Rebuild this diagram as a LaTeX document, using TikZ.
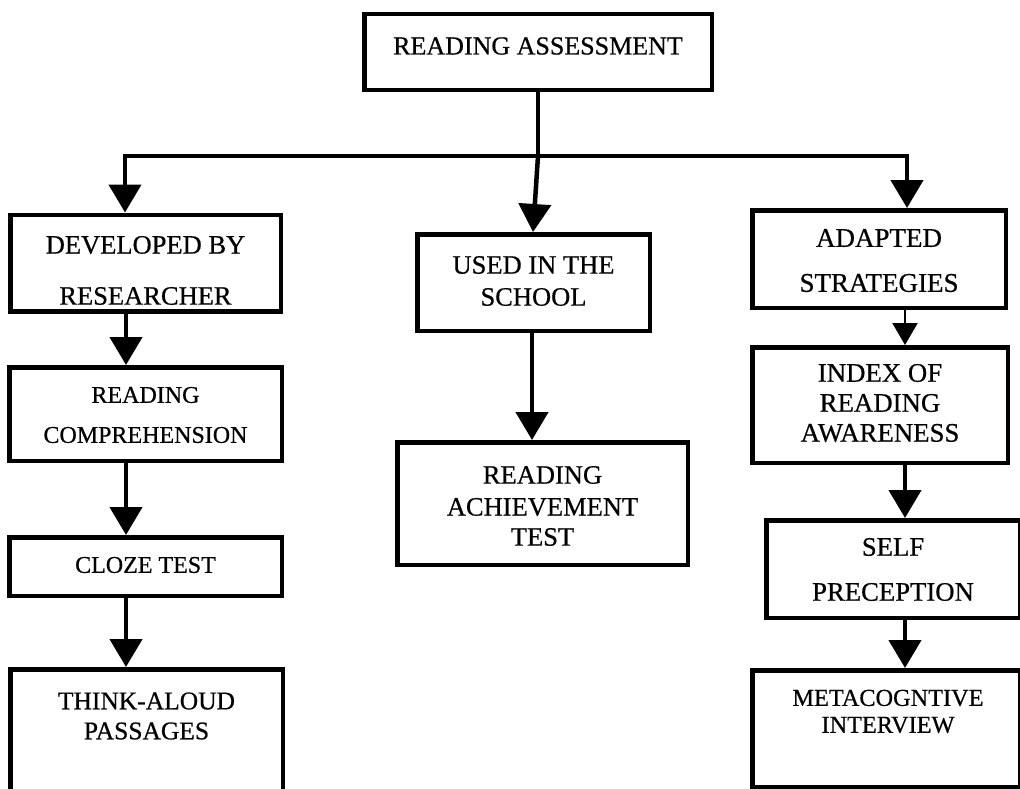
\documentclass[tikz,border=0pt]{standalone}
\usepackage{fontspec}
\setmainfont{Liberation Serif}[BoldFont=Liberation Serif, BoldFeatures={FakeBold=0.6}]
\usetikzlibrary{arrows.meta}
\tikzset{
  box/.style={draw=black, line width=4.5pt, rectangle, inner sep=0pt, fill=white},
  txt/.style={inner sep=0pt, text=black, font=\bfseries\fontsize{#1}{#1}\selectfont},
  txt/.default=25,
  conn/.style={line width=4.5pt, draw=black},
  arr/.style={line width=4.5pt, draw=black, -{Triangle[width=32pt,length=28pt]}},
  thinarr/.style={line width=2.2pt, draw=black, -{Triangle[width=25pt,length=22pt]}}
}
\begin{document}
\begin{tikzpicture}[x=1pt,y=-1pt]
\clip (0,0) rectangle (1020,789);
\fill[white] (0,0) rectangle (1020,789);
% boxes
\node[box, minimum width=347.5pt, minimum height=76pt] (top) at (538,52) {};
\node[box, minimum width=270.5pt, minimum height=96.5pt] (dev) at (145.5,263) {};
\node[box, minimum width=272.5pt, minimum height=93.5pt] (comp) at (145.5,414) {};
\node[box, minimum width=272.5pt, minimum height=58.5pt] (cloze) at (145.5,566.5) {};
\node[box, minimum width=272.5pt, minimum height=128.5pt] (think) at (146.5,733.5) {};
\node[box, minimum width=232.5pt, minimum height=96.5pt] (used) at (533.5,282.5) {};
\node[box, minimum width=290.5pt, minimum height=122.5pt] (ach) at (542.5,503.5) {};
\node[box, minimum width=253.5pt, minimum height=97.5pt] (adapt) at (879,259) {};
\node[box, minimum width=255.5pt, minimum height=115.5pt] (index) at (880,405) {};
\node[box, minimum width=253.5pt, minimum height=97.5pt] (self) at (893,569) {};
\node[box, minimum width=267.5pt, minimum height=116.5pt] (meta) at (886,728.5) {};
% texts
\node[txt=26] (ttop) at (538,46) {READING ASSESSMENT};
\node[txt=26.5] (tdev1) at (145.5,245) {DEVELOPED BY};
\node[txt=26.5] (tdev2) at (145.5,296) {RESEARCHER};
\node[txt=24] (tcomp1) at (145.5,395) {READING};
\node[txt=24] (tcomp2) at (145.5,435) {COMPREHENSION};
\node[txt=24] (tcloze) at (145.5,565) {CLOZE TEST};
\node[txt=25.5] (tthink1) at (146.5,701) {THINK-ALOUD};
\node[txt=25.5] (tthink2) at (146.5,731) {PASSAGES};
\node[txt=26.5] (tused1) at (533.5,265) {USED IN THE};
\node[txt=26.5] (tused2) at (533.5,297) {SCHOOL};
\node[txt=26.5] (tach1) at (542.5,475) {READING};
\node[txt=26.5] (tach2) at (542.5,507) {ACHIEVEMENT};
\node[txt=26.5] (tach3) at (542.5,537) {TEST};
\node[txt=27] (tadapt1) at (879,238) {ADAPTED};
\node[txt=27] (tadapt2) at (879,283) {STRATEGIES};
\node[txt=26.8] (tindex1) at (880,373) {INDEX OF};
\node[txt=26.8] (tindex2) at (880,403) {READING};
\node[txt=26.8] (tindex3) at (880,433) {AWARENESS};
\node[txt=26.7] (tself1) at (893,547) {SELF};
\node[txt=26.7] (tself2) at (893,592) {PRECEPTION};
\node[txt=24.3] (tmeta1) at (888,698) {METACOGNTIVE};
\node[txt=24.3] (tmeta2) at (888,725) {INTERVIEW};
% connector coordinates
\coordinate (j) at (538,156);
\coordinate (jl) at (125,156);
\coordinate (jr) at (907,156);
\coordinate (lx) at (126,0);
\coordinate (mx) at (532,0);
\coordinate (rx) at (905,0);
\coordinate (ux) at (533,0);
% connectors
\draw[conn] (top.south) -- (j);
\draw[conn, line cap=rect] (jl) -- (jr);
\draw[arr] (jl) -- (jl |- dev.north);
\draw[arr] (jr) -- (jr |- adapt.north);
\draw[arr] (j) -- (ux |- used.north);
\draw[arr] (dev.south -| lx) -- (comp.north -| lx);
\draw[arr] (comp.south -| lx) -- (cloze.north -| lx);
\draw[arr] (cloze.south -| lx) -- (think.north -| lx);
\draw[arr] (used.south -| mx) -- (ach.north -| mx);
\draw[thinarr] (adapt.south -| rx) -- (index.north -| rx);
\draw[arr] (index.south -| rx) -- (self.north -| rx);
\draw[arr] (self.south -| rx) -- (meta.north -| rx);
\end{tikzpicture}
\end{document}
